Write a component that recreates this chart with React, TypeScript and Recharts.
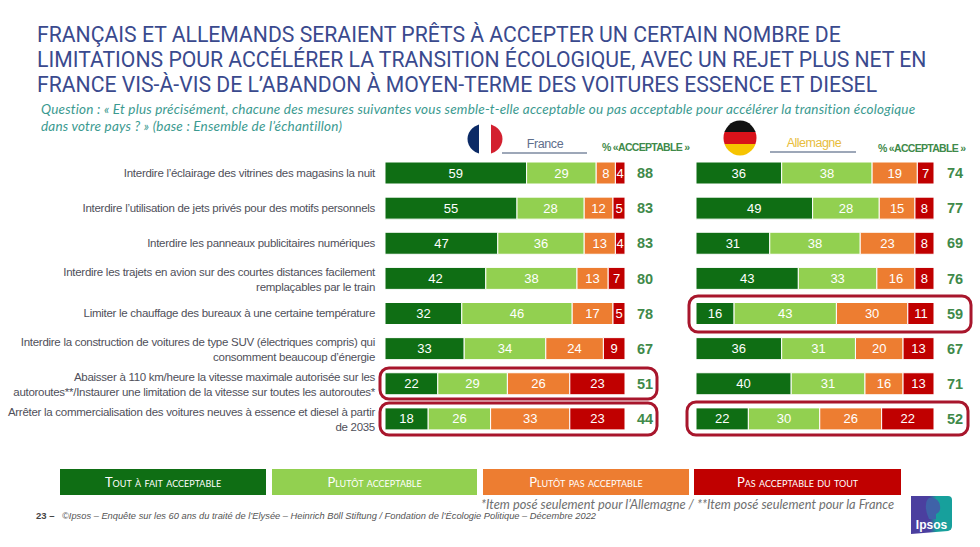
import React from "react";
import { BarChart, Bar, XAxis, YAxis, LabelList } from "recharts";

const categories = [
  "Interdire l’éclairage des vitrines des magasins la nuit",
  "Interdire l’utilisation de jets privés pour des motifs personnels",
  "Interdire les panneaux publicitaires numériques",
  "Interdire les trajets en avion sur des courtes distances facilement\nremplaçables par le train",
  "Limiter le chauffage des bureaux à une certaine température",
  "Interdire la construction de voitures de type SUV (électriques compris) qui\nconsomment beaucoup d’énergie",
  "Abaisser à 110 km/heure la vitesse maximale autorisée sur les\nautoroutes**/Instaurer une limitation de la vitesse sur toutes les autoroutes*",
  "Arrêter la commercialisation des voitures neuves à essence et diesel à partir\nde 2035",
];

const frTout = [59, 55, 47, 42, 32, 33, 22, 18];
const frPlutot = [29, 28, 36, 38, 46, 34, 29, 26];
const frPlutotPas = [8, 12, 13, 13, 17, 24, 26, 33];
const frPas = [4, 5, 4, 7, 5, 9, 23, 23];
const frAcceptable = [88, 83, 83, 80, 78, 67, 51, 44];

const deTout = [36, 49, 31, 43, 16, 36, 40, 22];
const dePlutot = [38, 28, 38, 33, 43, 31, 31, 30];
const dePlutotPas = [19, 15, 23, 16, 30, 20, 16, 26];
const dePas = [7, 8, 8, 8, 11, 13, 13, 22];
const deAcceptable = [74, 77, 69, 76, 59, 67, 71, 52];

const seriesNames = ["Tout à fait acceptable", "Plutôt acceptable", "Plutôt pas acceptable", "Pas acceptable du tout"];
const seriesKeys = ["tout", "plutot", "plutotPas", "pas"];
const seriesColors = ["#0f6e14", "#92d050", "#ed7d31", "#c00000"];

const titleLines = [
  "FRANÇAIS ET ALLEMANDS SERAIENT PRÊTS À ACCEPTER UN CERTAIN NOMBRE DE",
  "LIMITATIONS POUR ACCÉLÉRER LA TRANSITION ÉCOLOGIQUE, AVEC UN REJET PLUS NET EN",
  "FRANCE VIS-À-VIS DE L’ABANDON À MOYEN-TERME DES VOITURES ESSENCE ET DIESEL",
];
const questionLines = [
  "Question : « Et plus précisément, chacune des mesures suivantes vous semble-t-elle acceptable ou pas acceptable pour accélérer la transition écologique",
  "dans votre pays ? » (base : Ensemble de l’échantillon)",
];

const frRows = categories.map((name, i) => ({
  name, tout: frTout[i], plutot: frPlutot[i], plutotPas: frPlutotPas[i], pas: frPas[i], acc: frAcceptable[i],
}));
const deRows = categories.map((name, i) => ({
  name, tout: deTout[i], plutot: dePlutot[i], plutotPas: dePlutotPas[i], pas: dePas[i], acc: deAcceptable[i],
}));

const SANS = "'Liberation Sans', Arial, sans-serif";

const CategoryTick = (props: any) => {
  const lines = String(props.payload.value).split("\n");
  const top = props.y - (lines.length - 1) * 6;
  return (
    <text x={375} y={top} textAnchor="end" dominantBaseline="central" fontFamily={SANS} fontSize={11.5} letterSpacing={-0.28} fill="#4f4f5a">
      {lines.map((l, i) => (
        <tspan key={i} x={375} y={top + i * 15}>{l}</tspan>
      ))}
    </text>
  );
};

const Stacks = ({ gap }: { gap: number }) =>
  seriesKeys.map((k, i) => (
    <Bar key={k} dataKey={k} stackId="a" fill={seriesColors[i]} stroke="#ffffff" strokeWidth={1} barSize={22} isAnimationActive={false}>
      <LabelList dataKey={k} position="center" fill="#ffffff" fontFamily={SANS} fontSize={13} />
      {i === 3 ? (
        <LabelList dataKey="acc" position="right" offset={gap} fill="#3f8a4a" fontFamily={SANS} fontSize={14.5} fontWeight={700} />
      ) : null}
    </Bar>
  ));

const abs = (x: number, y: number, extra: React.CSSProperties = {}): React.CSSProperties => ({
  position: "absolute", left: x, top: y, whiteSpace: "nowrap", ...extra,
});

export default function App() {
  return (
    <div style={{ position: "absolute", left: 0, top: 0, width: 980, height: 547, background: "#fff", overflow: "hidden" }}>
      {titleLines.map((t, i) => (
        <div key={i} style={abs(37, 22 + i * 25, { fontFamily: "Roboto, sans-serif", fontSize: 21.2, lineHeight: "26px", color: "#3a4a8e" })}>{t}</div>
      ))}
      {questionLines.map((t, i) => (
        <div key={i} style={abs(41, 101 + i * 17, { fontFamily: "Lato, sans-serif", fontStyle: "italic", fontSize: 13.5, letterSpacing: 0.2, lineHeight: "16px", color: "#3b9a90" })}>{t}</div>
      ))}

      <div style={abs(0, 0)}>
        <BarChart width={680} height={547} data={frRows} layout="vertical" margin={{ top: 155, bottom: 111, left: 0, right: 55 }}>
          <XAxis type="number" domain={[0, 100]} hide />
          <YAxis type="category" dataKey="name" width={385} axisLine={false} tickLine={false} interval={0} tick={CategoryTick} />
          {Stacks({ gap: 12 })}
        </BarChart>
      </div>
      <div style={abs(696, 0)}>
        <BarChart width={284} height={547} data={deRows} layout="vertical" margin={{ top: 155, bottom: 111, left: 0, right: 46 }}>
          <XAxis type="number" domain={[0, 100]} hide />
          <YAxis type="category" dataKey="name" hide />
          {Stacks({ gap: 13 })}
        </BarChart>
      </div>

      <svg width={980} height={547} style={{ position: "absolute", left: 0, top: 0, pointerEvents: "none" }}>
        <defs>
          <clipPath id="fr"><ellipse cx={485} cy={139} rx={17.5} ry={15.5} /></clipPath>
          <clipPath id="de"><ellipse cx={740} cy={138} rx={16.5} ry={17.5} /></clipPath>
          <linearGradient id="ips" x1="0" x2="1" y1="0" y2="0">
            <stop offset="0.45" stopColor="#4b3f9f" />
            <stop offset="0.62" stopColor="#17a09c" />
          </linearGradient>
        </defs>
        <g clipPath="url(#fr)">
          <rect x={467} y={122} width={12} height={34} fill="#0b2a66" />
          <rect x={479} y={122} width={12} height={34} fill="#ffffff" />
          <rect x={491} y={122} width={12} height={34} fill="#d3202f" />
        </g>
        <g clipPath="url(#de)">
          <rect x={722} y={120} width={36} height={12} fill="#111111" />
          <rect x={722} y={132} width={36} height={12} fill="#d8121a" />
          <rect x={722} y={144} width={36} height={12} fill="#f6c400" />
        </g>
        <line x1={502} x2={587} y1={153} y2={153} stroke="#7c8aa0" strokeWidth={1.4} />
        <line x1={770} x2={856} y1={152} y2={152} stroke="#7c8aa0" strokeWidth={1.4} />
        <text x={545} y={148} textAnchor="middle" fontFamily={SANS} fontSize={12.5} letterSpacing={-0.4} fill="#5f6f8c">France</text>
        <text x={814} y={147} textAnchor="middle" fontFamily={SANS} fontSize={12.5} letterSpacing={-0.5} fill="#e8bd3c">Allemagne</text>
        <text x={602} y={151} fontFamily={SANS} fontSize={10.5} fontWeight={700} letterSpacing={-0.7} fill="#3f8a4a">% «ACCEPTABLE »</text>
        <text x={878} y={152} fontFamily={SANS} fontSize={10.5} fontWeight={700} letterSpacing={-0.7} fill="#3f8a4a">% «ACCEPTABLE »</text>

        <rect x={689} y={296} width={282} height={36} rx={9} fill="none" stroke="#a8162c" strokeWidth={3} />
        <rect x={687} y={402} width={281} height={33} rx={9} fill="none" stroke="#a8162c" strokeWidth={3} />
        <rect x={380} y={368} width={277} height={31} rx={9} fill="none" stroke="#a8162c" strokeWidth={3} />
        <rect x={380} y={403} width={277} height={32} rx={9} fill="none" stroke="#a8162c" strokeWidth={3} />

        <path d="M911 496H948Q952 496 952 500V526Q952 530 948 531L911 534Z" fill="url(#ips)" />
        <path d="M929 498Q939 497 940 506Q941 512 936 514V519H929Q925 510 926 505Q926 500 929 498Z" fill="#3f62a8" />
        <text x={931.5} y={529} textAnchor="middle" fontFamily={SANS} fontSize={12} fontWeight={700} fill="#ffffff">Ipsos</text>
      </svg>

      {seriesNames.map((n, i) => {
        const lefts = [60, 272, 483, 694];
        const widths = [206, 205, 206, 207];
        return (
          <div key={n} style={abs(lefts[i], 469, {
            width: widths[i], height: 26, background: seriesColors[i], color: "#fff", textAlign: "center",
            lineHeight: "26px", fontFamily: "Lato, sans-serif", fontSize: 13, fontVariant: "small-caps",
          })}>{n}</div>
        );
      })}

      <div style={abs(481, 497, { fontFamily: "Lato, sans-serif", fontStyle: "italic", fontSize: 12.8, lineHeight: "15px", color: "#6f6f6f" })}>
        *Item posé seulement pour l’Allemagne / **Item posé seulement pour la France
      </div>
      <div style={abs(36, 510, { fontFamily: SANS, fontWeight: 700, fontSize: 9.5, lineHeight: "12px", color: "#444" })}>23 –</div>
      <div style={abs(62, 510, { fontFamily: SANS, fontStyle: "italic", fontSize: 9.3, lineHeight: "12px", color: "#555" })}>
        ©Ipsos – Enquête sur les 60 ans du traité de l’Elysée – Heinrich Böll Stiftung / Fondation de l’Écologie Politique – Décembre 2022
      </div>
    </div>
  );
}
